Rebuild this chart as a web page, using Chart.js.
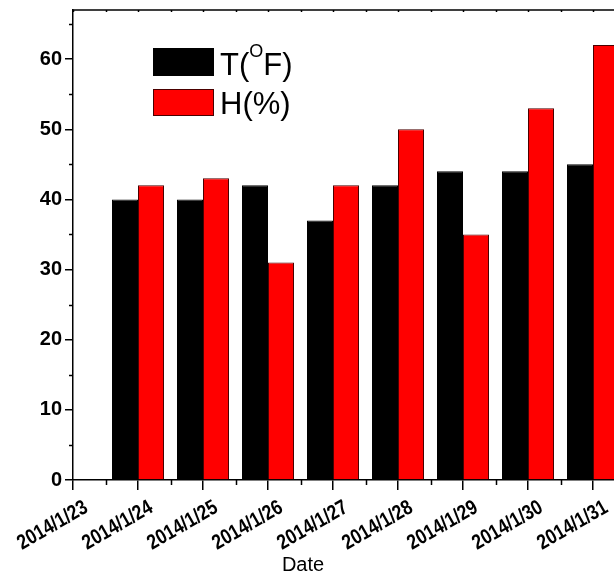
<!DOCTYPE html>
<html>
<head>
<meta charset="utf-8">
<script src="https://cdn.jsdelivr.net/npm/chart.js@4.4.1/dist/chart.umd.min.js"></script>
<style>
  html, body { margin: 0; padding: 0; background: #fff; overflow: hidden; }
  #wrap { width: 700px; height: 578px; }
</style>
</head>
<body>
<div id="wrap"><canvas id="chart" width="700" height="578"></canvas></div>
<script>
// data
const dates = ['2014/1/23', '2014/1/24', '2014/1/25', '2014/1/26', '2014/1/27',
               '2014/1/28', '2014/1/29', '2014/1/30', '2014/1/31'];
const barDays = [1, 2, 3, 4, 5, 6, 7, 8];           // index into dates
const tempF = [40, 40, 42, 37, 42, 44, 44, 45];
const humidity = [42, 43, 31, 42, 50, 35, 53, 62];
const yTicks = [0, 10, 20, 30, 40, 50, 60];

const FONT = '"Liberation Sans", Arial, sans-serif';

// minor ticks, top frame line, date labels, legend and axis title
const decor = {
  id: 'decor',
  afterDraw(chart) {
    const ctx = chart.ctx;
    const a = chart.chartArea;
    const x = chart.scales.x, y = chart.scales.y;
    ctx.save();
    ctx.strokeStyle = '#000';
    ctx.lineWidth = 1.5;
    ctx.beginPath();
    // top frame
    ctx.moveTo(a.left, a.top);
    ctx.lineTo(a.right, a.top);
    // y minor ticks
    for (let v = 5; v < y.max; v += 10) {
      const py = Math.round(y.getPixelForValue(v)) + 0.5;
      ctx.moveTo(a.left - 4, py);
      ctx.lineTo(a.left, py);
    }
    // x minor ticks
    for (let v = 0.5; v < x.max; v += 1) {
      const px = Math.round(x.getPixelForValue(v)) + 0.5;
      ctx.moveTo(px, a.bottom);
      ctx.lineTo(px, a.bottom + 5);
    }
    // top ticks, inward
    for (let v = 0; v <= x.max; v += 0.5) {
      const px = Math.round(x.getPixelForValue(v)) + 0.5;
      ctx.moveTo(px, a.top);
      ctx.lineTo(px, a.top + 2);
    }
    ctx.stroke();

    // rotated, slightly condensed date labels at the x ticks
    ctx.fillStyle = '#000';
    ctx.font = 'bold 21px ' + FONT;
    ctx.textAlign = 'right';
    ctx.textBaseline = 'top';
    dates.forEach((d, i) => {
      ctx.save();
      ctx.translate(x.getPixelForValue(i) + 8, a.bottom + 17);
      ctx.rotate(-Math.PI / 6);
      ctx.scale(0.83, 1);
      ctx.fillText(d, 0, 0);
      ctx.restore();
    });

    // legend
    const lx = a.left + 80, ly = a.top + 38;
    ctx.lineWidth = 1;
    ctx.fillStyle = '#000';
    ctx.fillRect(lx, ly, 61, 28);
    ctx.strokeStyle = '#000';
    ctx.strokeRect(lx + 0.5, ly + 0.5, 60, 27);
    ctx.fillStyle = '#ff0000';
    ctx.fillRect(lx, ly + 41, 61, 27);
    ctx.strokeStyle = '#4a0000';
    ctx.strokeRect(lx + 0.5, ly + 41.5, 60, 26);

    ctx.fillStyle = '#000';
    ctx.textBaseline = 'alphabetic';
    ctx.textAlign = 'left';
    let tx = lx + 67;
    ctx.font = '31px ' + FONT;
    ctx.fillText('T(', tx, ly + 27);
    tx += ctx.measureText('T(').width;
    ctx.font = '18px ' + FONT;
    ctx.fillText('O', tx, ly + 9);
    tx += ctx.measureText('O').width;
    ctx.font = '31px ' + FONT;
    ctx.fillText('F)', tx, ly + 27);
    ctx.fillText('H(%)', lx + 67, ly + 66);

    // x axis title
    ctx.font = '20px ' + FONT;
    ctx.textAlign = 'center';
    ctx.fillText('Date', a.left + 230, 571);
    ctx.restore();
  }
};

new Chart(document.getElementById('chart'), {
  type: 'bar',
  data: {
    datasets: [{
      label: 'T(OF)',
      data: barDays.map((d, i) => ({ x: d, y: tempF[i] })),
      backgroundColor: '#000000',
      borderColor: '#000000',
      borderWidth: 1
    }, {
      label: 'H(%)',
      data: barDays.map((d, i) => ({ x: d, y: humidity[i] })),
      backgroundColor: '#ff0000',
      borderColor: '#4a0000',
      borderWidth: 1
    }]
  },
  options: {
    responsive: false,
    animation: false,
    categoryPercentage: 0.8,
    barPercentage: 1.0,
    layout: { padding: { left: 0, right: 9.5, top: 10, bottom: 0 } },
    plugins: { legend: { display: false }, tooltip: { enabled: false } },
    scales: {
      x: {
        type: 'linear',
        min: 0,
        max: 9.5,
        offset: false,
        grid: { offset: false, drawOnChartArea: false, color: '#000', lineWidth: 1.5, tickLength: 10 },
        border: { display: true, color: '#000', width: 1.5 },
        ticks: {
          stepSize: 1,
          includeBounds: false,
          display: false
        },
        afterFit: (s) => {
          s.height = 98;
          s.paddingLeft = 0;
          s.paddingRight = 0;
        }
      },
      y: {
        min: 0,
        max: 67,
        grid: { drawOnChartArea: false, color: '#000', lineWidth: 1.5, tickLength: 8 },
        border: { display: true, color: '#000', width: 1.5 },
        ticks: {
          stepSize: 10,
          includeBounds: false,
          padding: 3,
          color: '#000',
          font: { family: FONT, size: 20, weight: 'bold' },
          callback: (v) => yTicks.includes(v) ? String(v) : ''
        },
        afterFit: (s) => {
          s.width = 73;
          s.paddingTop = 0;
          s.paddingBottom = 0;
        }
      }
    }
  },
  plugins: [decor]
});
</script>
</body>
</html>
